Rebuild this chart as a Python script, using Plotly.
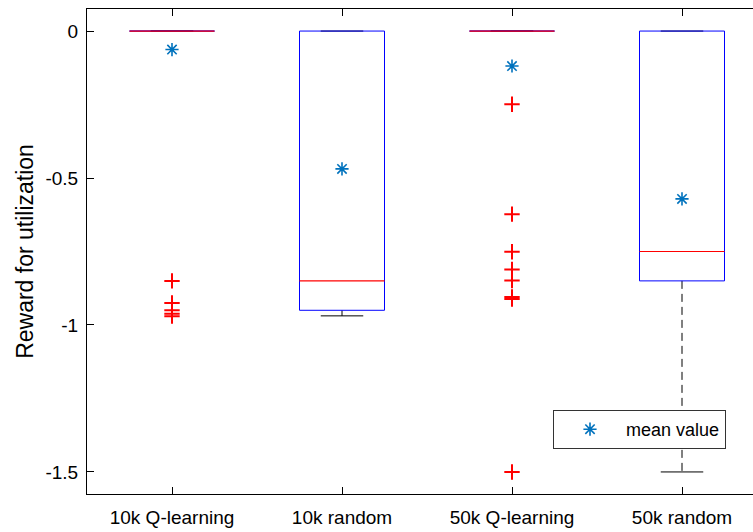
import plotly.graph_objects as go

categories = ["10k Q-learning", "10k random", "50k Q-learning", "50k random"]
q1 = [0.0, -0.95, 0.0, -0.85]
median = [0.0, -0.85, 0.0, -0.75]
q3 = [0.0, 0.0, 0.0, 0.0]
lower_whisker = [0.0, -0.969, 0.0, -1.5]
upper_whisker = [0.0, 0.0, 0.0, 0.0]
means = [-0.063, -0.469, -0.119, -0.571]
outliers = [
    [-0.85, -0.925, -0.95, -0.962, -0.97],
    [],
    [-0.249, -0.623, -0.751, -0.811, -0.849, -0.905, -0.912, -1.5],
    [],
]
y_tick_vals = [0, -0.5, -1, -1.5]
y_tick_text = ["0", "-0.5", "-1", "-1.5"]

FONT = "Liberation Sans, Arial, sans-serif"
BOX_HALF = 0.25
CAP_HALF = 0.125

fig = go.Figure()
for i, cat in enumerate(categories):
    x = i + 1
    # whiskers (dashed)
    fig.add_trace(go.Scatter(
        x=[x, x, None, x, x], y=[q3[i], upper_whisker[i], None, q1[i], lower_whisker[i]],
        mode="lines", line=dict(color="black", width=1, dash="8px,5px"),
        showlegend=False, hoverinfo="skip"))
    # caps
    fig.add_trace(go.Scatter(
        x=[x - CAP_HALF, x + CAP_HALF, None, x - CAP_HALF, x + CAP_HALF],
        y=[upper_whisker[i], upper_whisker[i], None, lower_whisker[i], lower_whisker[i]],
        mode="lines", line=dict(color="black", width=1),
        showlegend=False, hoverinfo="skip"))
    # box
    fig.add_trace(go.Scatter(
        x=[x - BOX_HALF, x + BOX_HALF, x + BOX_HALF, x - BOX_HALF, x - BOX_HALF],
        y=[q1[i], q1[i], q3[i], q3[i], q1[i]],
        mode="lines", line=dict(color="#0000FF", width=1),
        showlegend=False, hoverinfo="skip"))

# medians (one trace)
mx, my = [], []
for i in range(len(categories)):
    x = i + 1
    mx += [x - BOX_HALF, x + BOX_HALF, None]
    my += [median[i], median[i], None]
fig.add_trace(go.Scatter(
    x=mx, y=my, mode="lines", line=dict(color="#FF0000", width=1.2),
    showlegend=False, hoverinfo="skip"))

for i, cat in enumerate(categories):
    x = i + 1
    # outliers
    if outliers[i]:
        fig.add_trace(go.Scatter(
            x=[x] * len(outliers[i]), y=outliers[i], mode="markers",
            marker=dict(symbol="cross-thin-open", size=11, color="#FF0000",
                        line=dict(color="#FF0000", width=2)),
            showlegend=False, hoverinfo="skip"))

fig.add_trace(go.Scatter(
    x=[1, 2, 3, 4], y=means, mode="markers", name="mean value",
    marker=dict(symbol="asterisk-open", size=11, color="#0072BD",
                line=dict(color="#0072BD", width=1.6)),
    showlegend=True))

fig.update_layout(
    width=753, height=532,
    margin=dict(l=87, r=0, t=9, b=38),
    paper_bgcolor="white", plot_bgcolor="white",
    font=dict(family=FONT, size=19, color="black"),
    xaxis=dict(range=[0.5, 0.5 + 666 / 170], tickvals=[1, 2, 3, 4], ticktext=categories,
               showline=True, linecolor="black", linewidth=1, mirror="ticks",
               ticks="inside", ticklen=7, tickcolor="black", showgrid=False,
               zeroline=False, ticklabelstandoff=6),
    yaxis=dict(range=[-1.575, 0.075], tickvals=y_tick_vals, ticktext=y_tick_text,
               showline=True, linecolor="black", linewidth=1, mirror=False,
               ticks="inside", ticklen=7, tickcolor="black", showgrid=False,
               zeroline=False, ticklabelstandoff=4,
               title=dict(text="Reward for utilization", standoff=5)),
    legend=dict(x=(553 - 87) / 666, y=(494 - 410) / 485, xanchor="left", yanchor="top",
                bordercolor="#333333", borderwidth=1, bgcolor="white",
                itemwidth=62, font=dict(size=18), tracegroupgap=0),
)

fig.write_html("out.html")
